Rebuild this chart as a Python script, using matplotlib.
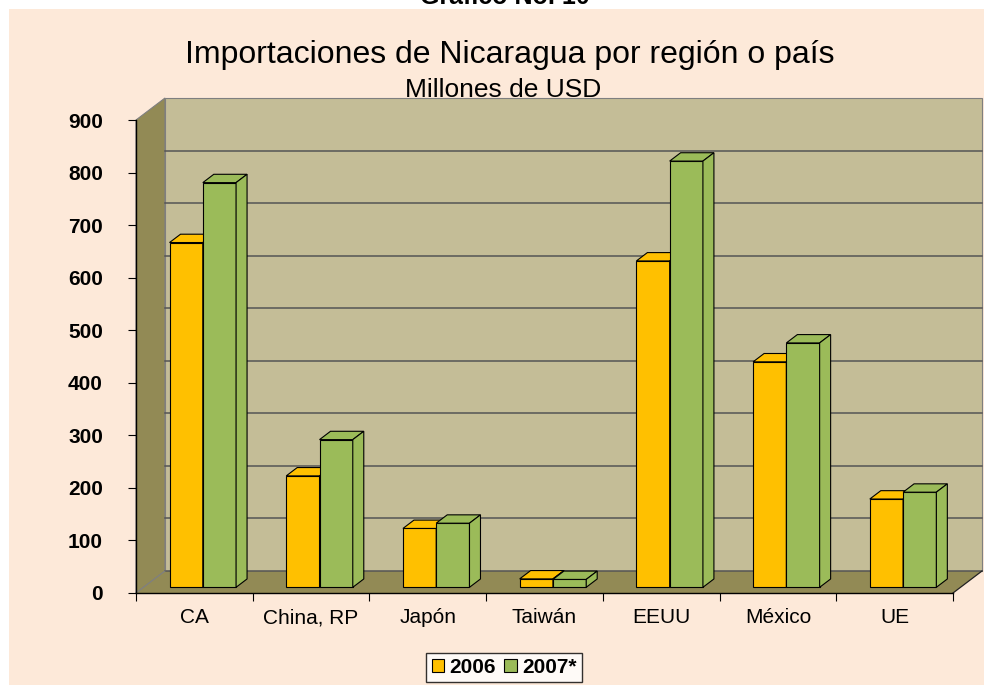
import matplotlib
matplotlib.use("Agg")
import matplotlib.pyplot as plt
from matplotlib.patches import Polygon, Rectangle, Patch

plt.rcParams['font.family'] = ['Liberation Sans', 'DejaVu Sans']

# ---- data ----
categories = ["CA", "China, RP", "Japón", "Taiwán", "EEUU", "México", "UE"]
series_names = ["2006", "2007*"]
values_2006 = [656, 212, 112, 16, 621, 429, 168]
values_2007 = [770, 281, 122, 15, 811, 465, 181]
y_ticks = [0, 100, 200, 300, 400, 500, 600, 700, 800, 900]

colors = ["#FFC000", "#9BBB59"]

W, H = 984, 685
fig = plt.figure(figsize=(W / 100, H / 100), dpi=100)
fig.patch.set_facecolor("white")
fig.patches.append(Rectangle((9 / W, 0), 1 - 9 / W, 1 - 9 / H, transform=fig.transFigure,
                             facecolor="#FDE9D9", edgecolor="none", zorder=-10))

# front plane of the 3D box
x_left, x_right, y_bot, y_top = 136, 953, 593, 120
ax = fig.add_axes([x_left / W, (H - y_bot) / H, (x_right - x_left) / W, (y_bot - y_top) / H])
ncat = len(categories)
ax.set_xlim(-0.5, ncat - 0.5)
ax.set_ylim(0, 900)
ax.patch.set_visible(False)

px_per_cat = (x_right - x_left) / ncat
px_per_val = (y_bot - y_top) / 900.0
DX = 29 / px_per_cat      # depth offset in category units
DY = 22 / px_per_val      # depth offset in value units


def P(x, y, f):
    return (x + f * DX, y + f * DY)


def poly(pts, fc, ec, lw=0.8, z=1):
    ax.add_patch(Polygon(pts, closed=True, facecolor=fc, edgecolor=ec, linewidth=lw,
                         clip_on=False, zorder=z, joinstyle="miter"))


xa, xb = -0.5, ncat - 0.5
ymax = 900
# walls
poly([P(xa, 0, 0), P(xa, 0, 1), P(xa, ymax, 1), P(xa, ymax, 0)], "#928A55", "#7f7f7f", 0.8, 1)
poly([P(xa, 0, 1), P(xb, 0, 1), P(xb, ymax, 1), P(xa, ymax, 1)], "#C4BD97", "#7f7f7f", 0.8, 1)
poly([P(xa, 0, 0), P(xb, 0, 0), P(xb, 0, 1), P(xa, 0, 1)], "#928A55", "none", 0.8, 1)
for v in y_ticks[:-1]:
    p0, p1 = P(xa, v, 1), P(xb, v, 1)
    ax.plot([p0[0], p1[0]], [p0[1], p1[1]], color="#555555", lw=1.1, clip_on=False, zorder=1.2)
p0, p1 = P(xa, 0, 0), P(xa, 0, 1)
ax.plot([p0[0], p1[0]], [p0[1], p1[1]], color="#7f7f7f", lw=0.8, clip_on=False, zorder=1.2)
p0, p1 = P(xb, 0, 0), P(xb, 0, 1)
ax.plot([p0[0], p1[0]], [p0[1], p1[1]], color="#222222", lw=0.9, clip_on=False, zorder=1.2)

# bars
bw = 0.285
shift = 0.008
f0, f1 = 0.259, 0.638
for i in range(ncat):
    for k, vals in enumerate([values_2006, values_2007]):
        v = vals[i]
        x0 = i + shift - bw + k * bw
        x1 = x0 + bw
        c = colors[k]
        z = 2 + 0.01 * (i * 2 + k)
        poly([P(x0, 0, f0), P(x1, 0, f0), P(x1, v, f0), P(x0, v, f0)], c, "black", 0.8, z)
        poly([P(x0, v, f0), P(x1, v, f0), P(x1, v, f1), P(x0, v, f1)], c, "black", 0.8, z)
        poly([P(x1, 0, f0), P(x1, 0, f1), P(x1, v, f1), P(x1, v, f0)], c, "black", 0.8, z)

# axes styling
for s in ["top", "right"]:
    ax.spines[s].set_visible(False)
for s in ["left", "bottom"]:
    ax.spines[s].set_color("black")
    ax.spines[s].set_linewidth(1.0)
    ax.spines[s].set_zorder(5)
ax.set_yticks(y_ticks)
ax.set_yticklabels([str(t) for t in y_ticks], fontsize=15, fontweight="bold")
ax.tick_params(axis="y", direction="out", length=5.8, width=0.8, pad=18)
ax.set_xticks([i - 0.5 for i in range(ncat + 1)])
ax.set_xticklabels([])
ax.tick_params(axis="x", which="major", direction="out", length=5.8, width=0.8)
ax.set_xticks(list(range(ncat)), minor=True)
ax.set_xticklabels(categories, minor=True, fontsize=15)
ax.tick_params(axis="x", which="minor", length=0, pad=11)

# titles
fig.text(505 / W, 1 - 4 / H, "Gráfico No. 10", ha="center", va="baseline",
         fontsize=18, fontweight="bold")
fig.text(510 / W, 1 - 63 / H, "Importaciones de Nicaragua por región o país", ha="center",
         va="baseline", fontsize=23)
fig.text(503 / W, 1 - 97 / H, "Millones de USD", ha="center", va="baseline", fontsize=19)

# legend
handles = [Patch(facecolor=colors[k], edgecolor="black", linewidth=0.8) for k in range(2)]
leg = fig.legend(handles, series_names, loc="center", bbox_to_anchor=(504 / W, 1 - 667.7 / H),
                 ncol=2, frameon=True, fancybox=False, edgecolor="black",
                 prop={"size": 15, "weight": "bold"}, handlelength=0.6, handleheight=0.6,
                 handletextpad=0.25, columnspacing=0.4, borderpad=0.25, borderaxespad=0)
leg.get_frame().set_linewidth(1.0)
leg.get_frame().set_facecolor("white")

fig.savefig("out.png", dpi=100)
